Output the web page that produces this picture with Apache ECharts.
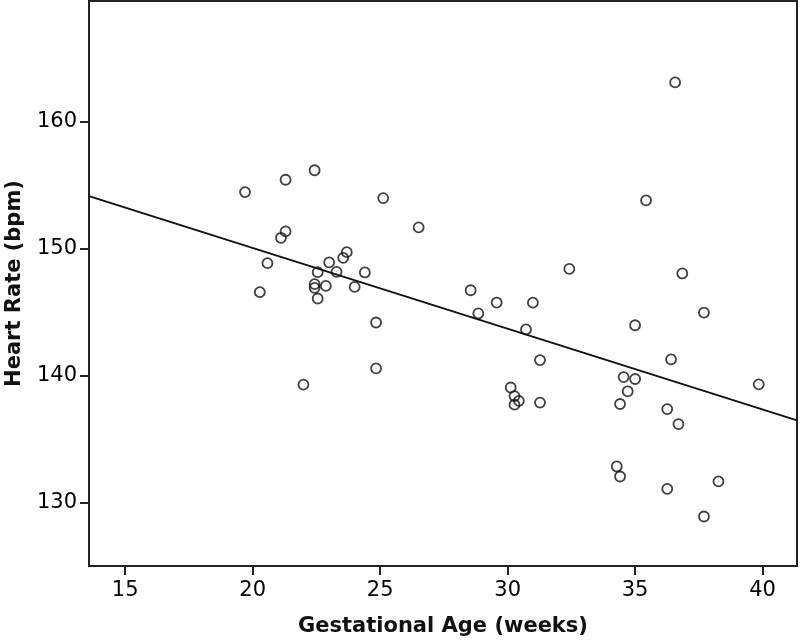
<!DOCTYPE html>
<html>
<head>
<meta charset="utf-8">
<script src="https://cdn.jsdelivr.net/npm/echarts@6/dist/echarts.min.js"></script>
<style>
html,body{margin:0;padding:0;background:#fff;}
#chart{width:800px;height:641px;}
</style>
</head>
<body>
<div id="chart"></div>
<script>
// Gestational age (weeks) for each observation
const gestationalAge = [
  19.70, 21.29, 22.43, 25.12, 26.51, 21.29, 21.11, 20.58, 23.69, 23.55,
  23.00, 24.40, 22.55, 23.29, 20.28, 22.43, 22.43, 22.87, 24.00, 22.55,
  24.84, 24.84, 21.99,
  32.42, 28.55, 29.57, 30.99, 28.85, 30.72, 31.27, 30.12, 30.27, 30.44,
  30.27, 31.27,
  36.57, 35.43, 36.85, 37.70, 35.00, 36.41, 39.85, 34.55, 35.00, 34.71,
  34.41, 36.26, 36.70, 34.28, 34.41, 36.26, 38.27, 37.70
];
// Heart rate (bpm) for each observation
const heartRate = [
  154.45, 155.42, 156.17, 153.98, 151.67, 151.35, 150.85, 148.85, 149.72, 149.27,
  148.91, 148.12, 148.14, 148.17, 146.57, 147.20, 146.91, 147.06, 146.98, 146.07,
  144.18, 140.57, 139.29,
  148.40, 146.72, 145.75, 145.74, 144.89, 143.63, 141.22, 139.06, 138.38, 138.01,
  137.71, 137.87,
  163.09, 153.80, 148.04, 144.96, 143.96, 141.28, 139.31, 139.88, 139.73, 138.76,
  137.76, 137.36, 136.18, 132.84, 132.05, 131.08, 131.66, 128.90
];
// Fit line end points
const fitAge = [13.58, 41.35];
const fitRate = [154.14, 136.47];
// Tick labels
const xTicks = [15, 20, 25, 30, 35, 40];
const yTicks = [130, 140, 150, 160];
const xRange = [13.58, 41.35];
const yRange = [125, 169.5];

const points = gestationalAge.map((a, i) => [a, heartRate[i]]);
const fitLine = fitAge.map((a, i) => [a, fitRate[i]]);

const chart = echarts.init(document.getElementById('chart'), null, {renderer: 'canvas'});
const labelFont = {fontFamily: 'DejaVu Sans', fontSize: 21, color: '#000'};
const nameFont = {fontFamily: 'DejaVu Sans', fontSize: 21, fontWeight: 'bold', color: '#111'};
chart.setOption({
  backgroundColor: '#fff',
  animation: false,
  grid: {left: 89, right: 3, top: 1, bottom: 75, show: true, borderColor: '#222', borderWidth: 2,
         containLabel: false, outerBoundsMode: 'none'},
  xAxis: {
    type: 'value', min: xRange[0], max: xRange[1],
    name: 'Gestational Age (weeks)', nameLocation: 'middle', nameGap: 50,
    nameTextStyle: nameFont,
    axisLine: {show: true, lineStyle: {color: '#222', width: 2}},
    axisTick: {show: true, length: 9, lineStyle: {color: '#222', width: 2}, customValues: xTicks},
    axisLabel: Object.assign({margin: 14, customValues: xTicks}, labelFont),
    splitLine: {show: false}
  },
  yAxis: {
    type: 'value', min: yRange[0], max: yRange[1],
    name: 'Heart Rate (bpm)', nameLocation: 'middle', nameGap: 64,
    nameTextStyle: nameFont,
    axisLine: {show: true, lineStyle: {color: '#222', width: 2}},
    axisTick: {show: true, length: 9, lineStyle: {color: '#222', width: 2}, customValues: yTicks},
    axisLabel: Object.assign({margin: 12, customValues: yTicks}, labelFont),
    splitLine: {show: false}
  },
  series: [
    {
      type: 'line', data: fitLine, symbol: 'none', silent: true,
      lineStyle: {color: '#111', width: 1.8}, z: 1
    },
    {
      type: 'scatter', data: points, symbol: 'circle', symbolSize: 10,
      itemStyle: {color: 'rgba(0,0,0,0)', borderColor: '#111', borderWidth: 1.8}, z: 2
    }
  ]
});
</script>
</body>
</html>
